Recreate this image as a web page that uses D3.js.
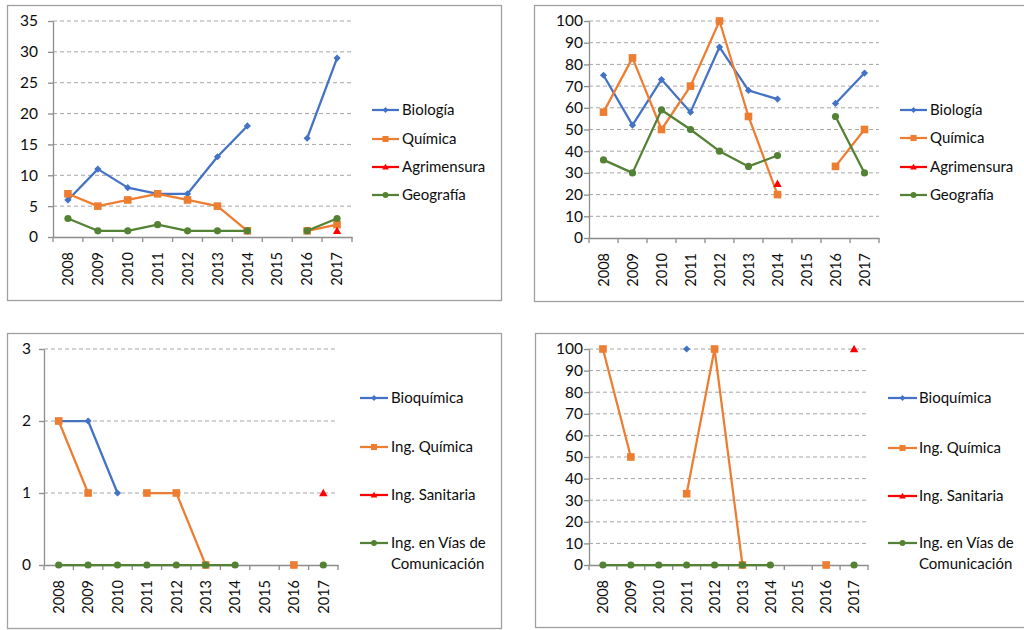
<!DOCTYPE html>
<html>
<head>
<meta charset="utf-8">
<script src="https://cdn.jsdelivr.net/npm/d3@7"></script>
<style>
html,body{margin:0;padding:0;background:#fff;}
svg{display:block;font-family:Lato,"Open Sans",sans-serif;}
</style>
</head>
<body>
<svg id="c" width="1024" height="630"></svg>
<script>
// ---------- data ----------
const years = ["2008","2009","2010","2011","2012","2013","2014","2015","2016","2017"];

// Top-left panel
const tlBiologia    = [6, 11, 8, 7, 7, 13, 18, null, 16, 29];
const tlQuimica     = [7, 5, 6, 7, 6, 5, 1, null, 1, 2];
const tlAgrimensura = [null, null, null, null, null, null, null, null, null, 1];
const tlGeografia   = [3, 1, 1, 2, 1, 1, 1, null, 1, 3];
const tlTicks = [0, 5, 10, 15, 20, 25, 30, 35];

// Top-right panel
const trBiologia    = [75, 52, 73, 58, 88, 68, 64, null, 62, 76];
const trQuimica     = [58, 83, 50, 70, 100, 56, 20, null, 33, 50];
const trAgrimensura = [null, null, null, null, null, null, 25, null, null, null];
const trGeografia   = [36, 30, 59, 50, 40, 33, 38, null, 56, 30];
const trTicks = [0, 10, 20, 30, 40, 50, 60, 70, 80, 90, 100];

// Bottom-left panel
const blBioquimica  = [2, 2, 1, null, null, null, null, null, null, null];
const blIngQuimica  = [2, 1, null, 1, 1, 0, null, null, 0, null];
const blIngSanitaria= [null, null, null, null, null, null, null, null, null, 1];
const blIngVias     = [0, 0, 0, 0, 0, 0, 0, null, null, 0];
const blTicks = [0, 1, 2, 3];

// Bottom-right panel
const brBioquimica  = [null, null, null, 100, null, null, null, null, null, null];
const brIngQuimica  = [100, 50, null, 33, 100, 0, null, null, 0, null];
const brIngSanitaria= [null, null, null, null, null, null, null, null, null, 100];
const brIngVias     = [0, 0, 0, 0, 0, 0, 0, null, null, 0];
const brTicks = [0, 10, 20, 30, 40, 50, 60, 70, 80, 90, 100];

const namesTop = ["Biología", "Química", "Agrimensura", "Geografía"];
const namesBottom = ["Bioquímica", "Ing. Química", "Ing. Sanitaria", ["Ing. en Vías de", "Comunicación"]];

// ---------- styles ----------
const colors = ["#4472C4", "#ED7D31", "#FF0000", "#548235"];
const shapes = ["diamond", "square", "triangle", "circle"];
const axisColor = "#8c8c8c";
const gridColor = "#a6a6a6";
const frameColor = "#a0a0a0";
const textColor = "#0d0d0d";

const svg = d3.select("#c");

function marker(g, shape, x, y, color, scale) {
  const s = scale || 1;
  if (shape === "diamond") {
    const r = 3.6 * s;
    g.append("path").attr("d", `M${x},${y - r}L${x + r},${y}L${x},${y + r}L${x - r},${y}Z`).attr("fill", color);
  } else if (shape === "square") {
    const r = 3.8 * s;
    g.append("rect").attr("x", x - r).attr("y", y - r).attr("width", 2 * r).attr("height", 2 * r).attr("fill", color);
  } else if (shape === "triangle") {
    const r = 4.2 * s;
    g.append("path").attr("d", `M${x},${y - r}L${x + r},${y + r * 0.75}L${x - r},${y + r * 0.75}Z`).attr("fill", color);
  } else {
    g.append("circle").attr("cx", x).attr("cy", y).attr("r", 3.6 * s).attr("fill", color);
  }
}

function panel(cfg) {
  const g = svg.append("g");
  // frame
  g.append("rect").attr("x", cfg.frame[0]).attr("y", cfg.frame[1])
    .attr("width", cfg.frame[2]).attr("height", cfg.frame[3])
    .attr("fill", "#fff").attr("stroke", frameColor).attr("stroke-width", 1.3);

  const x = d3.scaleBand().domain(years).range([cfg.x0, cfg.x1]).padding(0);
  const y = d3.scaleLinear().domain(cfg.domain).range([cfg.yB, cfg.yT]);

  // gridlines
  g.append("g").selectAll("line").data(cfg.ticks.filter(t => t !== 0)).join("line")
    .attr("x1", cfg.x0).attr("x2", cfg.x1)
    .attr("y1", d => y(d)).attr("y2", d => y(d))
    .attr("stroke", gridColor).attr("stroke-width", 1).attr("stroke-dasharray", "4,3");

  // y axis
  const ya = g.append("g").attr("transform", `translate(${cfg.x0},0)`)
    .call(d3.axisLeft(y).tickValues(cfg.ticks).tickSize(5).tickSizeOuter(0).tickFormat(d3.format("d")));
  ya.select(".domain").attr("stroke", axisColor).attr("stroke-width", 1.3);
  ya.selectAll(".tick line").attr("stroke", axisColor).attr("stroke-width", 1.3);
  ya.selectAll(".tick text").attr("x", cfg.labelRight - cfg.x0)
    .attr("font-size", 15.5).attr("fill", textColor).attr("font-family", "Lato, sans-serif");

  // x axis line and ticks at category boundaries
  const xa = g.append("g").attr("transform", `translate(0,${cfg.yB})`)
    .call(d3.axisBottom(x).tickSize(0).tickSizeOuter(0));
  xa.select(".domain").attr("stroke", axisColor).attr("stroke-width", 1.3);
  xa.selectAll(".tick text")
    .attr("transform", "translate(0,15) rotate(-90)")
    .attr("text-anchor", "end").attr("x", 0).attr("y", 0).attr("dy", "0.36em")
    .attr("font-size", 14.5).attr("fill", textColor).attr("font-family", "Lato, sans-serif");
  const bounds = years.map(d => x(d)).concat([x(years[years.length - 1]) + x.bandwidth()]);
  g.append("g").selectAll("line").data(bounds).join("line")
    .attr("x1", d => d).attr("x2", d => d).attr("y1", cfg.yB).attr("y2", cfg.yB + 5)
    .attr("stroke", axisColor).attr("stroke-width", 1.3);

  // series
  const cx = d => x(d) + x.bandwidth() / 2;
  cfg.series.forEach((vals, i) => {
    const pts = years.map((yr, k) => ({ yr, v: vals[k] }));
    const line = d3.line().defined(d => d.v !== null).x(d => cx(d.yr)).y(d => y(d.v));
    g.append("path").attr("d", line(pts)).attr("fill", "none")
      .attr("stroke", colors[i]).attr("stroke-width", 2.25).attr("stroke-linejoin", "round");
    pts.filter(d => d.v !== null).forEach(d => marker(g, shapes[i], cx(d.yr), y(d.v), colors[i]));
  });

  // legend
  const L = cfg.legend;
  cfg.names.forEach((nm, i) => {
    const ly = L.ys[i];
    g.append("line").attr("x1", L.l0).attr("x2", L.l1).attr("y1", ly).attr("y2", ly)
      .attr("stroke", colors[i]).attr("stroke-width", 2.25);
    marker(g, shapes[i], (L.l0 + L.l1) / 2, ly, colors[i], 0.8);
    const lines = Array.isArray(nm) ? nm : [nm];
    lines.forEach((t, k) => {
      g.append("text").attr("x", L.tx).attr("y", ly + k * L.lh).attr("dy", "0.36em")
        .attr("font-size", 15).attr("fill", textColor).text(t);
    });
  });
}

panel({
  frame: [7.5, 5.5, 494, 295], x0: 53, x1: 352, yT: 21, yB: 237,
  domain: [0, 35], ticks: tlTicks, labelRight: 38,
  series: [tlBiologia, tlQuimica, tlAgrimensura, tlGeografia], names: namesTop,
  legend: { l0: 372, l1: 399, tx: 402, ys: [110, 139, 167, 195], lh: 21 }
});
panel({
  frame: [534.5, 5.5, 500, 296], x0: 589, x1: 879, yT: 21, yB: 238,
  domain: [0, 100], ticks: trTicks, labelRight: 583,
  series: [trBiologia, trQuimica, trAgrimensura, trGeografia], names: namesTop,
  legend: { l0: 900, l1: 927, tx: 930, ys: [110, 138, 167, 195], lh: 21 }
});
panel({
  frame: [7.5, 333.5, 494, 295], x0: 44, x1: 338, yT: 349, yB: 565,
  domain: [0, 3], ticks: blTicks, labelRight: 31,
  series: [blBioquimica, blIngQuimica, blIngSanitaria, blIngVias], names: namesBottom,
  legend: { l0: 360, l1: 388, tx: 391, ys: [398, 447, 495, 543], lh: 21 }
});
panel({
  frame: [535.5, 333.5, 500, 294], x0: 589, x1: 868, yT: 349, yB: 565,
  domain: [0, 100], ticks: brTicks, labelRight: 583,
  series: [brBioquimica, brIngQuimica, brIngSanitaria, brIngVias], names: namesBottom,
  legend: { l0: 888, l1: 917, tx: 919, ys: [398, 448, 496, 543], lh: 21 }
});
</script>
</body>
</html>
